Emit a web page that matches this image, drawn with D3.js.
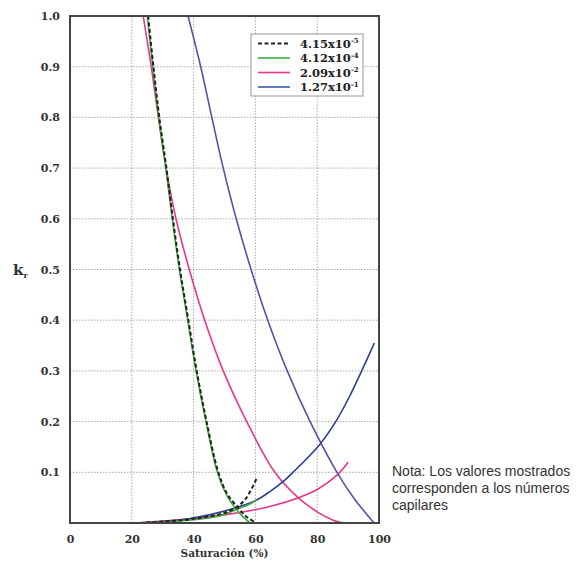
<!DOCTYPE html>
<html>
<head>
<meta charset="utf-8">
<script src="https://cdn.jsdelivr.net/npm/d3@7/dist/d3.min.js"></script>
<style>
  html, body { margin: 0; padding: 0; background: #fff; }
  svg { display: block; }
</style>
</head>
<body>
<script>
// Relative permeability vs. saturation for four capillary numbers
const xTicks = [0, 20, 40, 60, 80, 100];
const yTicks = [0.1, 0.2, 0.3, 0.4, 0.5, 0.6, 0.7, 0.8, 0.9, 1.0];
const legendMantissa = ["4.15x10", "4.12x10", "2.09x10", "1.27x10"];
const legendExponent = ["-5", "-4", "-2", "-1"];

// [saturation %, kr] pairs, one array per branch
const blackDown = [[25.3,1.0],[27,0.9],[28.9,0.8],[31.2,0.7],[33.3,0.6],[35.6,0.5],[38.3,0.4],[41,0.3],[44.2,0.2],[48,0.1],[51,0.056],[54.1,0.032],[57.2,0.012],[60.4,0]];
const greenDown = [[25,1.0],[26.8,0.9],[28.7,0.8],[31,0.7],[33.1,0.6],[35.4,0.5],[38.1,0.4],[40.8,0.3],[44,0.2],[47.7,0.1],[50.6,0.056],[53.4,0.03],[56,0.012],[58.3,0]];
const blackUp = [[22.5,0],[30,0.003],[37,0.006],[42,0.01],[47.5,0.016],[51,0.022],[54.1,0.032],[56.5,0.045],[58.3,0.062],[60.4,0.088]];
const greenUp = [[23,0],[30,0.002],[35,0.004],[45,0.01],[50,0.017],[54,0.027],[58,0.037],[60.4,0.045]];
const pinkDown = [[23.7,1.0],[26.3,0.9],[28.6,0.8],[31.1,0.7],[34.3,0.6],[38.6,0.5],[43.6,0.4],[49.6,0.3],[57.2,0.2],[66.3,0.1],[74,0.049],[80,0.022],[85,0.006],[88.5,0]];
const pinkUp = [[22,0],[30,0.004],[40,0.009],[50,0.016],[58,0.024],[65,0.033],[74,0.05],[80,0.066],[86.5,0.095],[90,0.12]];
const blueDown = [[38.2,1.0],[42.3,0.9],[45.9,0.8],[49.6,0.7],[53.8,0.6],[58.6,0.5],[64,0.4],[70.3,0.3],[77.7,0.2],[86.4,0.1],[92,0.048],[98.4,0]];
const blueUp = [[22,0],[30,0.003],[38,0.008],[45,0.016],[52,0.027],[60,0.044],[64.7,0.062],[69,0.082],[72,0.099],[80.7,0.154],[86,0.2],[90.5,0.25],[94.4,0.3],[98.5,0.355]];

const colors = { black: "#222", green: "#3cab3c", pink: "#e8378a", blueDown: "#5a4fa4", blueUp: "#2a3f8f", legendBlue: "#3d5aa6" };

const W = 580, H = 565;
const svg = d3.select("body").append("svg").attr("width", W).attr("height", H);

const x = d3.scaleLinear().domain([0, 100]).range([70, 379]);
const y = d3.scaleLinear().domain([0, 1]).range([523, 16]);

const serif = "'DejaVu Serif', serif";

// Dotted grid
const grid = svg.append("g");
grid.selectAll("line.gx").data(xTicks.filter(d => d > 0 && d < 100)).join("line")
  .attr("x1", d => x(d)).attr("x2", d => x(d)).attr("y1", y(0)).attr("y2", y(1))
  .attr("stroke", "#aaa").attr("stroke-width", 1).attr("stroke-dasharray", "1.5,1.5");
grid.selectAll("line.gy").data(yTicks.filter(d => d < 1)).join("line")
  .attr("x1", x(0)).attr("x2", x(100)).attr("y1", d => y(d)).attr("y2", d => y(d))
  .attr("stroke", "#aaa").attr("stroke-width", 1).attr("stroke-dasharray", "1.5,1.5");

// Axes (ticks hidden; labels only)
const xAxis = svg.append("g").attr("transform", `translate(0,${y(0)})`)
  .call(d3.axisBottom(x).tickValues(xTicks).tickSize(0).tickPadding(12).tickFormat(d3.format("d")));
const yAxis = svg.append("g").attr("transform", `translate(${x(0)},0)`)
  .call(d3.axisLeft(y).tickValues(yTicks).tickSize(0).tickPadding(10).tickFormat(d3.format(".1f")));
[xAxis, yAxis].forEach(g => {
  g.select(".domain").remove();
  g.selectAll("text").attr("font-family", serif).attr("font-weight", "bold")
    .attr("font-size", 11).attr("fill", "#333");
});

// Curves
const clipId = "plotclip";
svg.append("clipPath").attr("id", clipId).append("rect")
  .attr("x", x(0)).attr("y", y(1)).attr("width", x(100) - x(0)).attr("height", y(0) - y(1));
const line = d3.line().x(d => x(d[0])).y(d => y(d[1])).curve(d3.curveCatmullRom.alpha(0.5));
const curves = svg.append("g").attr("clip-path", `url(#${clipId})`);
const series = [
  { data: pinkDown, color: colors.pink, dash: null },
  { data: pinkUp, color: colors.pink, dash: null },
  { data: blueDown, color: colors.blueDown, dash: null },
  { data: blueUp, color: colors.blueUp, dash: null },
  { data: greenDown, color: colors.green, dash: null },
  { data: greenUp, color: colors.green, dash: null },
  { data: blackDown, color: colors.black, dash: "4,2.5" },
  { data: blackUp, color: colors.black, dash: "4,2.5" }
];
curves.selectAll("path").data(series).join("path")
  .attr("d", d => line(d.data))
  .attr("fill", "none")
  .attr("stroke", d => d.color)
  .attr("stroke-width", d => d.dash ? 2 : 1.6)
  .attr("stroke-dasharray", d => d.dash);

// Frame
svg.append("rect").attr("x", x(0)).attr("y", y(1))
  .attr("width", x(100) - x(0)).attr("height", y(0) - y(1))
  .attr("fill", "none").attr("stroke", "#444").attr("stroke-width", 2);

// Axis titles
svg.append("text").attr("x", x(50)).attr("y", 557).attr("text-anchor", "middle")
  .attr("font-family", serif).attr("font-weight", "bold").attr("font-size", 10.5).attr("fill", "#333")
  .text("Saturación (%)");
const kr = svg.append("text").attr("x", 13).attr("y", 275)
  .attr("font-family", serif).attr("font-weight", "bold").attr("font-size", 15).attr("fill", "#333");
kr.append("tspan").text("k");
kr.append("tspan").attr("font-size", 8).attr("dy", 3).text("r");

// Legend
const legend = svg.append("g");
legend.append("rect").attr("x", 251).attr("y", 34).attr("width", 112).attr("height", 62)
  .attr("fill", "#fff").attr("stroke", "#999").attr("stroke-width", 1);
const legendColors = [colors.black, colors.green, colors.pink, colors.legendBlue];
const rowY = [43.5, 58, 72.5, 87];
legendMantissa.forEach((m, i) => {
  legend.append("line").attr("x1", 258).attr("x2", 290).attr("y1", rowY[i]).attr("y2", rowY[i])
    .attr("stroke", legendColors[i]).attr("stroke-width", i === 0 ? 2 : 1.6)
    .attr("stroke-dasharray", i === 0 ? "4,2.5" : null);
  const t = legend.append("text").attr("x", 300).attr("y", rowY[i] + 4)
    .attr("font-family", serif).attr("font-weight", "bold").attr("font-size", 11.5).attr("fill", "#222");
  t.append("tspan").text(m);
  t.append("tspan").attr("font-size", 7).attr("dy", -4.5).text(legendExponent[i]);
});

// Note
const note = ["Nota: Los valores mostrados", "corresponden a los números", "capilares"];
svg.append("g").selectAll("text").data(note).join("text")
  .attr("x", 392).attr("y", (d, i) => 476 + i * 17)
  .attr("font-family", "'Liberation Sans', Arial, sans-serif").attr("font-size", 14).attr("fill", "#333")
  .text(d => d);
</script>
</body>
</html>
